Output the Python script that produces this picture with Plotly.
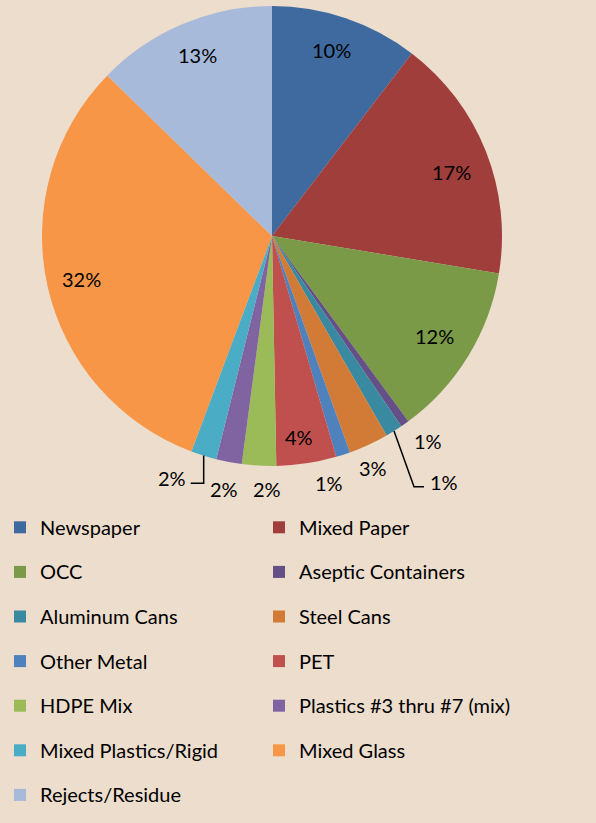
import math
import plotly.graph_objects as go

# ---------------- data ----------------
categories = ["Newspaper", "Mixed Paper", "OCC", "Aseptic Containers", "Aluminum Cans",
              "Steel Cans", "Other Metal", "PET", "HDPE Mix", "Plastics #3 thru #7 (mix)",
              "Mixed Plastics/Rigid", "Mixed Glass", "Rejects/Residue"]
values = [10.4, 17.2, 12.3, 0.6, 1.2, 2.8, 1.0, 4.2, 2.4, 1.8, 1.8, 31.6, 12.7]
colors = ["#3F6AA0", "#A03E3C", "#7A9A48", "#644F87", "#398AA1", "#D17B36", "#4F81BD",
          "#C0504D", "#9BBB59", "#8064A2", "#4BACC6", "#F79646", "#A8BADA"]

# ---------------- layout constants (pixels) ----------------
W, H = 596, 823
CX, CY, R = 272, 236, 230
FONT = "Lato"
BG = "#ECDDCD"

# label placement per slice: (radius factor, angle offset deg) ; None = custom leader
label_style = [(0.85, -1), (0.83, 2), (0.83, 0), (1.12, -2), None, (1.10, 1.3), (1.10, 5),
               (0.88, 1), (1.10, -2), (1.12, 0), None, (0.85, 0), (0.85, 0.5)]


def px(x):
    return x / W


def py(y):
    return 1 - y / H


def polar(angle_deg, rf):
    a = math.radians(angle_deg)
    return CX + rf * R * math.sin(a), CY - rf * R * math.cos(a)


total = sum(values)
fig = go.Figure(go.Pie(
    labels=[f'<span style="font-size:20px;baseline-shift:5px">{c}</span>' for c in categories],
    values=values, sort=False, direction="clockwise", rotation=0,
    marker=dict(colors=colors, line=dict(width=0)),
    textinfo="none", hoverinfo="label+percent", name="",
    domain=dict(x=[px(CX - R), px(CX + R)], y=[py(CY + R), py(CY - R)]),
))

annotations = []
shapes = []
cum = 0.0
for i, v in enumerate(values):
    mid = (cum + v / 2) / total * 360
    cum += v
    pct = f"{round(v / total * 100):.0f}%"
    st = label_style[i]
    if st is not None:
        rf, off = st
        x, y = polar(mid + off, rf)
        annotations.append(dict(x=px(x), y=py(y), xref="paper", yref="paper", text=pct,
                                xanchor="center", yanchor="middle",
                                showarrow=False, font=dict(family=FONT, size=20, color="black")))
    else:
        x0, y0 = polar(mid, 1.0)
        if x0 > CX:   # right-side leader (Aluminum)
            x1, y1 = x0 + 20, CY + 1.09 * R
            x2 = x1 + 10
            lx, anchor = x2 + 4, "left"
        else:         # left-side leader (Mixed Plastics)
            x1, y1 = x0, CY + 1.075 * R
            x2 = x1 - 13
            lx, anchor = x2 - 3, "right"
        shapes.append(dict(type="path", xref="paper", yref="paper",
                           path=f"M {px(x0)},{py(y0)} L {px(x1)},{py(y1)} L {px(x2)},{py(y1)}",
                           line=dict(color="black", width=1.5)))
        annotations.append(dict(x=px(lx), y=py(y1 - 5), xref="paper", yref="paper", text=pct,
                                xanchor=anchor, yanchor="middle", showarrow=False,
                                font=dict(family=FONT, size=20, color="black")))

fig.update_layout(
    width=W, height=H, margin=dict(l=0, r=0, t=0, b=0),
    paper_bgcolor=BG, plot_bgcolor=BG,
    annotations=annotations, shapes=shapes,
    showlegend=True,
    legend=dict(orientation="h", x=0, xanchor="left", y=0, yanchor="bottom",
                entrywidth=214, entrywidthmode="pixels", bgcolor="rgba(0,0,0,0)",
                font=dict(family=FONT, size=32, color="black"), traceorder="normal"),
)

fig.write_html("out.html", config={"displayModeBar": False},
               post_script="document.body.style.margin='0';document.body.style.overflow='hidden';")
